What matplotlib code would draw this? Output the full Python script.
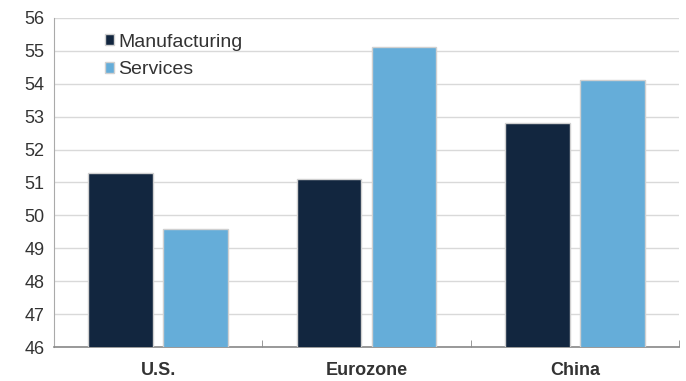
import matplotlib.pyplot as plt
import numpy as np

# Data
regions = ["U.S.", "Eurozone", "China"]
manufacturing = [51.3, 51.1, 52.8]
services = [49.6, 55.1, 54.1]

plt.rcParams['font.family'] = ['Liberation Sans', 'DejaVu Sans']

fig = plt.figure(figsize=(6.86, 3.81), dpi=100)
ax = fig.add_axes([0.0787, 0.0892, 0.911, 0.864])

x = np.arange(len(regions))
width = 0.31
ax.bar(x - 0.18, manufacturing, width, color="#12263F", edgecolor="#D0D0D0",
       linewidth=1, label="Manufacturing", zorder=3)
ax.bar(x + 0.18, services, width, color="#65ADD9", edgecolor="#D0D0D0",
       linewidth=1, label="Services", zorder=3)

ax.set_ylim(46, 56)
ax.set_xlim(-0.5, 2.5)
ax.set_yticks(range(46, 57))
ax.yaxis.grid(True, color="#D9D9D9", linewidth=1, zorder=0)

ax.set_xticks(x)
ax.set_xticklabels(regions, fontsize=13, fontweight="bold", color="#333333")
ax.tick_params(axis="x", length=0, pad=11)
ax.set_xticks([0.5, 1.5, 2.5], minor=True)
ax.tick_params(axis="x", which="minor", direction="in", length=5, color="#888888")
ax.tick_params(axis="y", length=0, labelsize=13, labelcolor="#333333", pad=7)

for s in ["top", "right"]:
    ax.spines[s].set_visible(False)
ax.spines["left"].set_color("#AAAAAA")
ax.spines["bottom"].set_color("#888888")
ax.spines["bottom"].set_linewidth(1.2)

ax.legend(loc="upper left", bbox_to_anchor=(0.053, 1.005), frameon=False,
          fontsize=14, handlelength=0.5, handleheight=0.5, handletextpad=0.2,
          labelspacing=0.55, labelcolor="#333333")

fig.savefig("out.png", dpi=100)
